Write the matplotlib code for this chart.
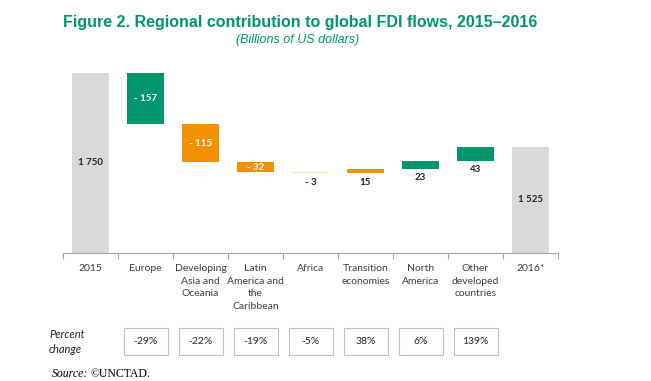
import matplotlib
matplotlib.use('Agg')
import matplotlib.pyplot as plt
from matplotlib.patches import Rectangle

# data (billions of US dollars)
categories = ['2015', 'Europe', 'Developing\nAsia and\nOceania', 'Latin\nAmerica and\nthe\nCaribbean',
              'Africa', 'Transition\neconomies', 'North\nAmerica', 'Other\ndeveloped\ncountries', '2016*']
start_value = 1750
end_value = 1525
changes = [-157, -115, -32, -3, 15, 23, 43]
pct_change = [-29, -22, -19, -5, 38, 6, 139]

green = '#00956F'
orange = '#F29100'
pale = '#F6DFB0'
grey = '#D9D9D9'
change_colors = [green, orange, orange, pale, orange, green, green]
inside_label = [True, True, True, False, False, False, False]

plt.rcParams['font.family'] = ['Lato', 'DejaVu Sans']

fig = plt.figure(figsize=(6.51, 3.81), dpi=100)
W, H = 651, 381

# main waterfall axes
ax = fig.add_axes([63 / W, 128 / H, 495 / W, 180 / H])
ax.set_xlim(-0.5, len(categories) - 0.5)
ax.set_ylim(1200, 1750)
bw = 0.67

# totals
ax.bar(0, start_value - 1200, bottom=1200, width=bw, color=grey)
ax.bar(len(categories) - 1, end_value - 1200, bottom=1200, width=bw, color=grey)
ax.text(0, (start_value + 1200) / 2, '1 750', ha='center', va='center', fontsize=7, fontweight='bold', color='#222222')
ax.text(len(categories) - 1, (end_value + 1200) / 2, '1 525', ha='center', va='center', fontsize=7,
        fontweight='bold', color='#222222')

level = start_value
for i, d in enumerate(changes):
    x = i + 1
    lo = min(level, level + d)
    ax.bar(x, abs(d), bottom=lo, width=bw, color=change_colors[i])
    lab = '- %d' % abs(d) if d < 0 else '%d' % d
    if inside_label[i]:
        ax.text(x, lo + abs(d) / 2, lab, ha='center', va='center', fontsize=7, fontweight='bold', color='white')
    else:
        ax.annotate(lab, (x, lo), xytext=(0, -3), textcoords='offset points', ha='center', va='top',
                    fontsize=7, fontweight='bold', color='#222222')
    level += d

for s in ['top', 'left', 'right']:
    ax.spines[s].set_visible(False)
ax.spines['bottom'].set_color('#A6A6A6')
ax.spines['bottom'].set_linewidth(0.8)
ax.set_yticks([])
ax.set_xticks([i - 0.5 for i in range(len(categories) + 1)], minor=False)
ax.set_xticklabels([])
ax.tick_params(axis='x', length=4, color='#A6A6A6', width=0.8)
for i, c in enumerate(categories):
    ax.annotate(c, (i, 1200), xytext=(0, -8), textcoords='offset points', ha='center', va='top',
                fontsize=7.5, color='#404040', linespacing=1.5)

# percent change row
ax2 = fig.add_axes([63 / W, 25 / H, 495 / W, 30 / H])
ax2.set_xlim(-0.5, len(categories) - 0.5)
ax2.set_ylim(0, 1)
ax2.axis('off')
for i, p in enumerate(pct_change):
    x = i + 1
    ax2.add_patch(Rectangle((x - 0.4, 0.05), 0.8, 0.9, facecolor='white', edgecolor='#BFBFBF', linewidth=0.8))
    ax2.text(x, 0.5, '%d%%' % p, ha='center', va='center', fontsize=7.5, color='#262626')
fig.text(49 / W, 1 - 342 / H, 'Percent\nchange', ha='left', va='center', fontsize=8, style='italic',
         color='#262626', linespacing=1.5)

# titles
fig.text(300 / W, 1 - 22 / H, 'Figure 2. Regional contribution to global FDI flows, 2015\u20132016',
         ha='center', va='center', fontsize=11.5, fontweight='bold', color=green,
         family=['Liberation Sans', 'DejaVu Sans'])
fig.text(298 / W, 1 - 40 / H, '(Billions of US dollars)', ha='center', va='center', fontsize=9,
         style='italic', color=green, family=['Liberation Sans', 'DejaVu Sans'])

fig.text(52 / W, 1 - 374 / H, 'Source:', ha='left', va='center', fontsize=8.5, style='italic',
         family=['Liberation Serif', 'DejaVu Serif'])
fig.text(90 / W, 1 - 374 / H, '\u00a9UNCTAD.', ha='left', va='center', fontsize=8.5,
         family=['Liberation Serif', 'DejaVu Serif'])

fig.savefig('out.png', dpi=100)
